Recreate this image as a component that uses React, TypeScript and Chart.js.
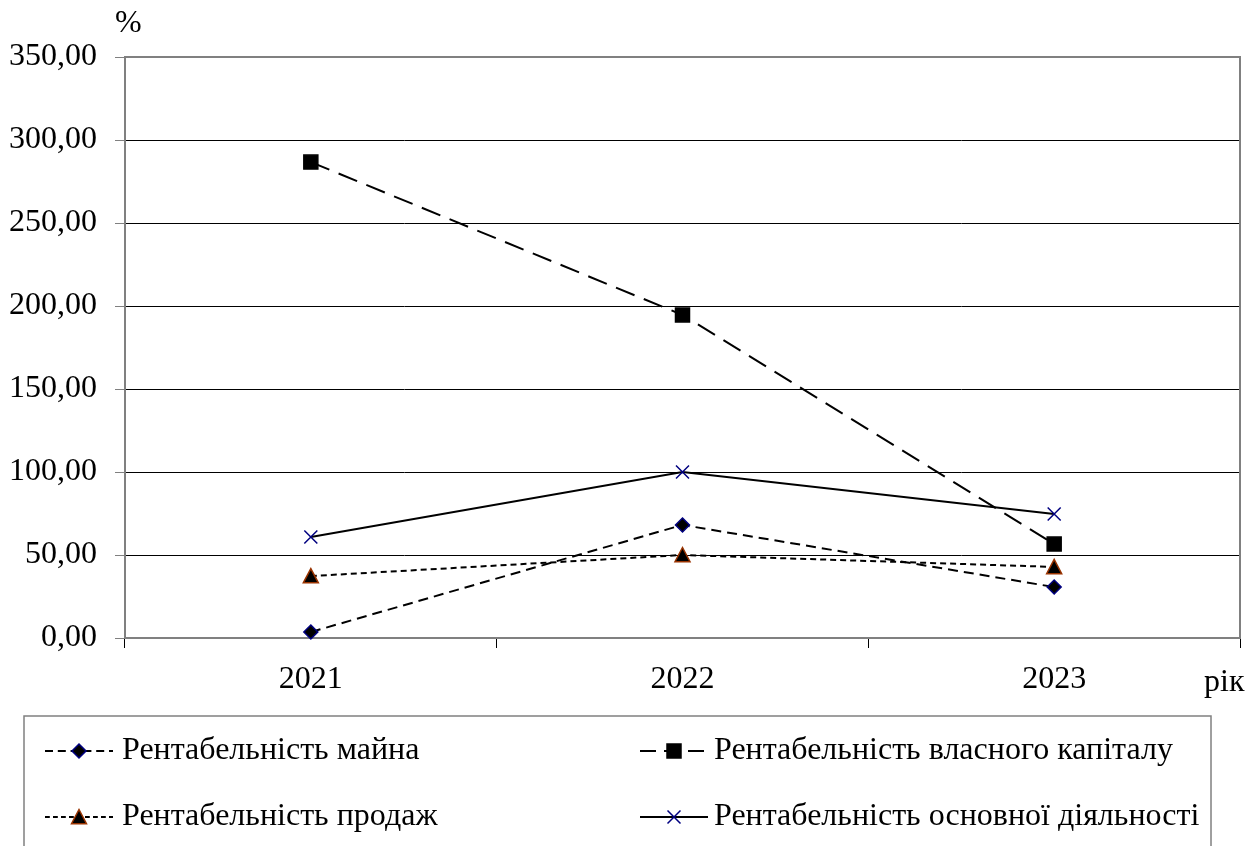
import React, { useEffect, useRef } from "react";
import { Chart, registerables } from "chart.js";

Chart.register(...registerables);

const years = ["2021", "2022", "2023"];
const assetReturn = [3.6, 68.1, 30.7];
const equityReturn = [286.7, 194.6, 56.6];
const salesReturn = [37.3, 50.0, 42.8];
const operatingReturn = [60.8, 100.0, 74.7];
const seriesNames = [
  "Рентабельність майна",
  "Рентабельність власного капіталу",
  "Рентабельність продаж",
  "Рентабельність основної діяльності",
];

const FONT = "Liberation Serif";
const W = 1249;
const H = 846;

type Marker = {
  style: string;
  fill: string;
  stroke: string;
  radius: number;
  dash: number[];
};

const markers: Marker[] = [
  { style: "diamond", fill: "#000000", stroke: "#000080", radius: 7, dash: [10, 6] },
  { style: "square", fill: "#000000", stroke: "#000000", radius: 7, dash: [20, 10] },
  { style: "triangle", fill: "#000000", stroke: "#993300", radius: 7.5, dash: [6, 4] },
  { style: "x", fill: "#000080", stroke: "#000080", radius: 6.5, dash: [] },
];

function drawMarker(ctx: CanvasRenderingContext2D, m: Marker, x: number, y: number) {
  const r = m.radius;
  ctx.save();
  ctx.setLineDash([]);
  ctx.fillStyle = m.fill;
  ctx.strokeStyle = m.stroke;
  ctx.lineWidth = 1.5;
  ctx.beginPath();
  if (m.style === "diamond") {
    ctx.moveTo(x, y - r);
    ctx.lineTo(x + r, y);
    ctx.lineTo(x, y + r);
    ctx.lineTo(x - r, y);
    ctx.closePath();
    ctx.fill();
    ctx.stroke();
  } else if (m.style === "square") {
    ctx.rect(x - r, y - r, 2 * r, 2 * r);
    ctx.fill();
    ctx.stroke();
  } else if (m.style === "triangle") {
    ctx.moveTo(x, y - r);
    ctx.lineTo(x + r, y + r * 0.9);
    ctx.lineTo(x - r, y + r * 0.9);
    ctx.closePath();
    ctx.fill();
    ctx.stroke();
  } else {
    ctx.moveTo(x - r, y - r);
    ctx.lineTo(x + r, y + r);
    ctx.moveTo(x + r, y - r);
    ctx.lineTo(x - r, y + r);
    ctx.stroke();
  }
  ctx.restore();
}

const decorations = {
  id: "decorations",
  afterDatasetsDraw(chart: any) {
    const { ctx, chartArea } = chart;
    ctx.save();
    // plot frame on top and right
    ctx.strokeStyle = "#808080";
    ctx.lineWidth = 2;
    ctx.beginPath();
    ctx.moveTo(chartArea.left, chartArea.top);
    ctx.lineTo(chartArea.right, chartArea.top);
    ctx.lineTo(chartArea.right, chartArea.bottom);
    ctx.stroke();

    // markers drawn on top of lines
    chart.data.datasets.forEach((_: any, i: number) => {
      const meta = chart.getDatasetMeta(i);
      meta.data.forEach((pt: any) => drawMarker(ctx, markers[i], pt.x, pt.y));
    });

    // axis captions
    ctx.fillStyle = "#000";
    ctx.font = `32px ${FONT}`;
    ctx.textBaseline = "middle";
    ctx.textAlign = "left";
    ctx.fillText("%", 115, 24);
    ctx.fillText("рік", 1204, 683);

    // legend box
    ctx.strokeStyle = "#808080";
    ctx.lineWidth = 1.5;
    ctx.strokeRect(24, 716, 1187, 150);

    const cols = [
      { x0: 45, x1: 113, tx: 122 },
      { x0: 640, x1: 708, tx: 714 },
    ];
    const rows = [751, 817];
    seriesNames.forEach((name, i) => {
      const col = cols[i % 2];
      const y = rows[Math.floor(i / 2)];
      const m = markers[i];
      ctx.save();
      ctx.strokeStyle = "#000";
      ctx.lineWidth = 2;
      ctx.setLineDash(m.dash.map((d) => d * 0.8));
      ctx.beginPath();
      ctx.moveTo(col.x0, y);
      ctx.lineTo(col.x1, y);
      ctx.stroke();
      ctx.restore();
      drawMarker(ctx, m, col.x0 + 34, y);
      ctx.fillStyle = "#000";
      ctx.font = `32px ${FONT}`;
      ctx.textBaseline = "middle";
      ctx.fillText(name, col.tx, y);
    });
    ctx.restore();
  },
};

export default function App() {
  const ref = useRef<HTMLCanvasElement | null>(null);

  useEffect(() => {
    if (!ref.current) return;
    const seriesValues = [assetReturn, equityReturn, salesReturn, operatingReturn];
    const chart = new Chart(ref.current, {
      type: "line",
      data: {
        labels: years,
        datasets: seriesValues.map((vals, i) => ({
          label: seriesNames[i],
          data: vals,
          borderColor: "#000",
          borderWidth: 2,
          borderDash: markers[i].dash,
          pointRadius: 0,
          pointHoverRadius: 0,
          tension: 0,
          fill: false,
        })),
      },
      options: {
        responsive: false,
        animation: false,
        events: [],
        layout: { padding: { left: 0, top: 57, right: 9, bottom: 138 } },
        plugins: {
          legend: { display: false },
          tooltip: { enabled: false },
          title: { display: false },
        },
        scales: {
          x: {
            offset: true,
            grid: {
              offset: true,
              drawOnChartArea: false,
              drawTicks: true,
              tickLength: 10,
              tickColor: "#000",
            },
            border: { display: true, color: "#808080", width: 2 },
            ticks: {
              color: "#000",
              font: { family: FONT, size: 32 },
              padding: 12,
              maxRotation: 0,
            },
            afterFit: (s: any) => {
              s.height = 70;
            },
          },
          y: {
            min: 0,
            max: 350,
            grid: {
              color: (c: any) => (c.tick && c.tick.value === 350 ? "#808080" : "#000"),
              lineWidth: 1,
              tickLength: 10,
              tickColor: "#808080",
            },
            border: { display: true, color: "#808080", width: 2 },
            ticks: {
              stepSize: 50,
              color: "#000",
              font: { family: FONT, size: 32 },
              padding: 18,
              callback: (v: any) => Number(v).toFixed(2).replace(".", ","),
            },
            afterFit: (s: any) => {
              s.width = 125;
            },
          },
        },
      },
      plugins: [decorations],
    });
    return () => chart.destroy();
  }, []);

  return (
    <div style={{ position: "fixed", left: 0, top: 0, width: W, height: H, background: "#fff" }}>
      <canvas ref={ref} width={W} height={H} style={{ display: "block" }} />
    </div>
  );
}
